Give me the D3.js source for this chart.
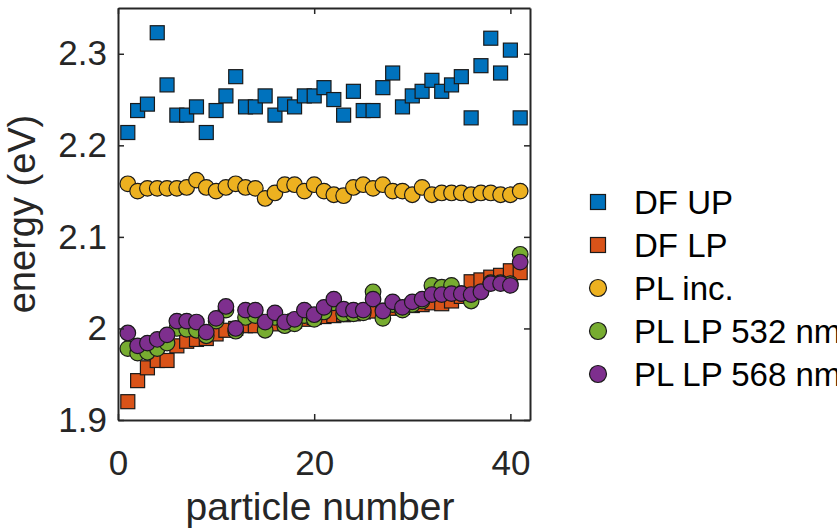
<!DOCTYPE html>
<html>
<head>
<meta charset="utf-8">
<script src="https://cdn.jsdelivr.net/npm/d3@7"></script>
<style>
body { margin: 0; background: #fff; }
svg { display: block; font-family: "Liberation Sans", Arial, sans-serif; }
</style>
</head>
<body>
<div id="chart"></div>
<script>
// particle index (x)
var particle = [1,2,3,4,5,6,7,8,9,10,11,12,13,14,15,16,17,18,19,20,21,22,23,24,25,26,27,28,29,30,31,32,33,34,35,36,37,38,39,40,41];

// energies in eV
var dfUP = [2.214,2.238,2.245,2.323,2.266,2.233,2.233,2.242,2.214,2.238,
            2.254,2.275,2.242,2.242,2.254,2.233,2.245,2.242,2.254,2.254,
            2.263,2.250,2.233,2.259,2.238,2.238,2.263,2.279,2.242,2.254,
            2.259,2.271,2.259,2.266,2.275,2.230,2.287,2.317,2.279,2.304,2.230];
var dfLP = [1.920,1.943,1.957,1.965,1.965,1.981,1.986,1.988,1.989,1.994,
            1.998,2.000,2.003,2.003,2.004,2.005,2.006,2.008,2.010,2.012,
            2.013,2.014,2.015,2.016,2.018,2.019,2.020,2.022,2.023,2.025,
            2.026,2.028,2.027,2.030,2.035,2.051,2.053,2.056,2.058,2.063,2.061];
var plInc = [2.158,2.150,2.153,2.153,2.153,2.153,2.154,2.162,2.154,2.150,
             2.154,2.158,2.154,2.153,2.142,2.148,2.157,2.157,2.150,2.157,
             2.150,2.146,2.145,2.154,2.157,2.153,2.157,2.150,2.150,2.146,
             2.154,2.146,2.148,2.148,2.148,2.146,2.148,2.148,2.146,2.146,2.150];
var plLP532 = [1.978,1.973,1.974,1.978,1.984,2.000,1.999,1.998,1.992,2.008,
               2.020,1.997,2.012,2.014,1.998,2.012,2.003,2.005,2.014,2.010,
               2.018,2.028,2.016,2.016,2.017,2.040,2.011,2.026,2.020,2.026,
               2.030,2.047,2.045,2.047,2.038,2.030,2.040,2.050,2.050,2.049,2.081];
var plLP568 = [1.995,1.981,1.984,1.988,1.993,2.008,2.008,2.007,1.996,2.011,
               2.024,2.000,2.020,2.020,2.007,2.017,2.007,2.010,2.020,2.015,
               2.023,2.032,2.021,2.020,2.020,2.032,2.019,2.029,2.023,2.029,
               2.032,2.037,2.037,2.038,2.038,2.037,2.040,2.049,2.049,2.047,2.0725];

var seriesNames = ["DF UP", "DF LP", "PL inc.", "PL LP 532 nm", "PL LP 568 nm"];
var xTicks = [0, 20, 40];
var yTicks = [1.9, 2, 2.1, 2.2, 2.3];

var series = [
    {name: seriesNames[0], values: dfUP, color: "#0072bd", shape: "square"},
    {name: seriesNames[1], values: dfLP, color: "#d95319", shape: "square"},
    {name: seriesNames[2], values: plInc, color: "#edb120", shape: "circle"},
    {name: seriesNames[3], values: plLP532, color: "#77ac30", shape: "circle"},
    {name: seriesNames[4], values: plLP568, color: "#7e2f8e", shape: "circle"}
];

var margin = {top: 8, right: 307, bottom: 110, left: 118},
    width = 837 - margin.left - margin.right,
    height = 530 - margin.top - margin.bottom;

var x = d3.scaleLinear().domain([0, 42]).range([0, width]);
var y = d3.scaleLinear().domain([1.9, 2.35]).range([height, 0]);

var svg = d3.select("#chart").append("svg")
    .attr("width", 837)
    .attr("height", 530);

var g = svg.append("g")
    .attr("transform", "translate(" + margin.left + "," + margin.top + ")");

var axisColor = "#262626";
var sq = 14, r = 7.8;

// markers
series.forEach(function(s) {
    var pts = g.append("g").selectAll(".pt")
        .data(s.values.map(function(v, i) { return {x: particle[i], y: v}; }))
        .enter();
    if (s.shape === "square") {
        pts.append("rect")
            .attr("x", d => x(d.x) - sq / 2)
            .attr("y", d => y(d.y) - sq / 2)
            .attr("width", sq)
            .attr("height", sq)
            .attr("fill", s.color)
            .attr("stroke", "#1a1a1a")
            .attr("stroke-width", 1.2);
    } else {
        pts.append("circle")
            .attr("cx", d => x(d.x))
            .attr("cy", d => y(d.y))
            .attr("r", r)
            .attr("fill", s.color)
            .attr("stroke", "#1a1a1a")
            .attr("stroke-width", 1.2);
    }
});

// axes (ticks point inward, box on)
function styleAxis(sel) {
    sel.select(".domain").attr("stroke", axisColor).attr("stroke-width", 2);
    sel.selectAll(".tick line").attr("stroke", axisColor).attr("stroke-width", 1.5);
    sel.selectAll(".tick text").attr("fill", axisColor)
        .style("font-size", "35px")
        .style("font-family", "'Liberation Sans', Arial, sans-serif");
}

g.append("g")
    .attr("transform", "translate(0," + height + ")")
    .call(d3.axisBottom(x).tickValues(xTicks).tickSize(-6).tickSizeOuter(0).tickPadding(30).tickFormat(d3.format("~g")))
    .call(styleAxis);

g.append("g")
    .call(d3.axisTop(x).tickValues(xTicks).tickSize(-6).tickSizeOuter(0).tickFormat(""))
    .call(styleAxis);

g.append("g")
    .call(d3.axisLeft(y).tickValues(yTicks).tickSize(-6).tickSizeOuter(0).tickPadding(11).tickFormat(d3.format("~g")))
    .call(styleAxis);

g.append("g")
    .attr("transform", "translate(" + width + ",0)")
    .call(d3.axisRight(y).tickValues(yTicks).tickSize(-6).tickSizeOuter(0).tickFormat(""))
    .call(styleAxis);

// axis labels
g.append("text")
    .attr("x", width / 2 - 4)
    .attr("y", height + 100)
    .attr("text-anchor", "middle")
    .attr("fill", axisColor)
    .style("font-size", "39px")
    .text("particle number");

g.append("text")
    .attr("transform", "translate(" + (-83) + "," + (height / 2) + ") rotate(-90)")
    .attr("text-anchor", "middle")
    .attr("fill", axisColor)
    .style("font-size", "38px")
    .text("energy (eV)");

// legend
var legend = svg.append("g").attr("transform", "translate(598,202)");
series.forEach(function(s, i) {
    var row = legend.append("g").attr("transform", "translate(0," + (i * 43) + ")");
    if (s.shape === "square") {
        row.append("rect")
            .attr("x", -7.5).attr("y", -7.5)
            .attr("width", 15).attr("height", 15)
            .attr("fill", s.color)
            .attr("stroke", "#1a1a1a")
            .attr("stroke-width", 1.2);
    } else {
        row.append("circle")
            .attr("r", 8.5)
            .attr("fill", s.color)
            .attr("stroke", "#1a1a1a")
            .attr("stroke-width", 1.2);
    }
    row.append("text")
        .attr("x", 36)
        .attr("y", 12)
        .attr("fill", "#000")
        .style("font-size", "33px")
        .text(s.name);
});
</script>
</body>
</html>
